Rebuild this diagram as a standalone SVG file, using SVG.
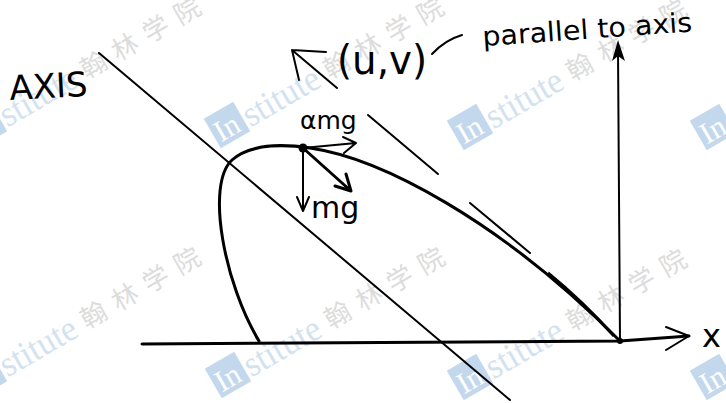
<svg xmlns="http://www.w3.org/2000/svg" width="726" height="403" viewBox="0 0 726 403">
<style>
.ln{fill:none;stroke:#000;stroke-width:2;stroke-linecap:round;stroke-linejoin:round}
.thk{fill:none;stroke:#000;stroke-width:3;stroke-linecap:round;stroke-linejoin:round}
.hw{font-family:"DejaVu Sans","Liberation Sans",sans-serif;fill:#000}
.wmL{fill:#c3d8ec}
.wmS{font-family:"Liberation Serif",serif;fill:#d3e2ef;font-size:36px}
.wmC{font-family:"Noto Sans CJK SC",sans-serif;fill:#dcdcdc;font-size:26px}
</style>
<defs>
<g id="wm">
<rect x="-17" y="-17" width="34" height="34" class="wmL"/>
<text x="-14" y="12" style="font-family:'Liberation Serif',serif;font-size:30px;fill:#fff">In</text>
<text x="19" y="14" class="wmS" textLength="84" lengthAdjust="spacingAndGlyphs">stitute</text>
<text x="112" y="12" class="wmC" letter-spacing="10">翰林学院</text>
</g>
</defs>
<rect width="726" height="403" fill="#fff"/>
<g id="watermarks">
<use href="#wm" transform="translate(-16,125) rotate(-30)"/>
<use href="#wm" transform="translate(227,125) rotate(-30)"/>
<use href="#wm" transform="translate(470,127) rotate(-30)"/>
<use href="#wm" transform="translate(713,127) rotate(-30)"/>
<use href="#wm" transform="translate(-16,375) rotate(-30)"/>
<use href="#wm" transform="translate(228,375) rotate(-30)"/>
<use href="#wm" transform="translate(470,377) rotate(-30)"/>
<use href="#wm" transform="translate(713,377) rotate(-30)"/>
</g>
<g id="connectors">
<path id="axis-line" class="ln" d="M99,53 L510,400"/>
<path id="x-axis" class="thk" d="M142,344 L620,341 L689,336"/>
<path id="x-arrowhead" class="ln" d="M666,327 L689,336 L666,350"/>
<path id="y-axis" class="ln" d="M620,341 L618,50"/>
<polygon id="y-arrowhead" points="618,40 612,61 618,56 625,61" fill="#000"/>
<path id="trajectory" class="thk" d="M259,341 C 225,285 205,185 232,160 C 252,142 290,145 310,148 C 380,158 500,220 620,341"/>
<path id="traj-thick" fill="none" stroke="#000" stroke-width="3" d="M548,273 C 575,295 595,315 614,336"/>
<path id="tangent1" class="ln" stroke-width="1.8" d="M368,115 L438,174"/>
<path id="tangent2" class="ln" stroke-width="1.8" d="M470,203 L530,253"/>
<path id="uv-arrow" class="ln" d="M337,88 L292,50 M292,50 L326,52 M292,50 L299,80"/>
<path id="uv-dash" class="ln" d="M432,54 Q445,40 462,35"/>
<path id="alpha-arrow" class="ln" d="M303,148 L356,143 M343,137 L356,143 L344,153"/>
<path id="diag-arrow" class="thk" stroke-width="3.5" d="M303,148 L351,191 M335,186 L351,191 L346,174"/>
<path id="mg-arrow" class="ln" d="M303,148 L303,211 M297,197 L303,211 L309,197"/>
</g>
<g id="dots">
<circle cx="303" cy="148" r="4.5" fill="#000"/>
<circle cx="620" cy="341" r="3" fill="#000"/>
</g>
<g id="labels">
<text id="axis-label" class="hw" x="10" y="100" font-size="34" transform="rotate(-3 10 100)">AXIS</text>
<text id="uv-label" class="hw" x="337" y="74" font-size="40" textLength="90" lengthAdjust="spacingAndGlyphs">(u,v)</text>
<text id="parallel-label" class="hw" x="483" y="46" font-size="27" textLength="210" lengthAdjust="spacingAndGlyphs" transform="rotate(-4 483 46)">parallel to axis</text>
<text id="alpha-label" class="hw" x="300" y="129" font-size="25">αmg</text>
<text id="mg-label" class="hw" x="311" y="218" font-size="30">mg</text>
<text id="x-label" class="hw" x="702" y="347" font-size="32">x</text>
</g>
</svg>
